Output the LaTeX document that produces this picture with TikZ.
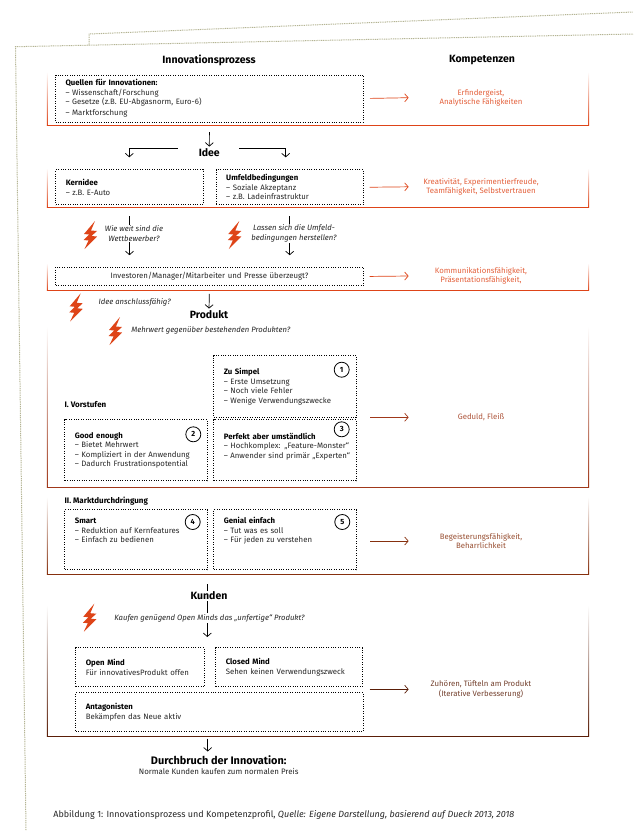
\documentclass[tikz,border=0pt]{standalone}
\usepackage{fontspec}
\setmainfont{Fira Sans}
\usetikzlibrary{arrows.meta}

\definecolor{pone}{HTML}{DE4418}
\definecolor{ptwo}{HTML}{A0381A}
\definecolor{pthree}{HTML}{86300E}
\definecolor{pfour}{HTML}{5A1E08}
\definecolor{outlinegray}{HTML}{B4B494}

\tikzset{
	dotbox/.style 2 args={
		draw = black,
		line width = 1pt,
		dash pattern = on 1pt off 1.4pt,
		anchor = north west,
		align = left,
		inner xsep = 10pt,
		inner ysep = 0pt,
		minimum width = #1,
		minimum height = #2,
		text width = #1-20pt,
		text = black!85,
		font = \fontsize{7.8}{9.5}\selectfont},
	head/.style = {font = \fontsize{10.5}{11}\selectfont\bfseries, fill = white, inner sep = 1pt},
	frage/.style = {font = \fontsize{7.7}{9.5}\selectfont\itshape, text = black!85, align = center, fill = white, inner sep = 1pt},
	vlabel/.style = {font = \fontsize{8}{9.5}\selectfont\bfseries, anchor = west, inner sep = 0pt},
	compnode/.style = {font = \fontsize{7.8}{9.5}\selectfont, align = center, minimum width = 144pt, inner sep = 0pt},
	num/.style = {circle, draw = black, line width = 0.8pt, minimum size = 15pt, inner sep = 0pt, font = \fontsize{7.5}{9}\selectfont\bfseries},
	bolt/.pic = {
		\fill[pone] (5,-14) -- (-6,-1) -- (-1,-0.5) -- (-6.5,5) -- (-1.5,5.5) -- (-5.5,14)
			-- (7,1.5) -- (1.5,1) -- (7,-4) -- (1,-4.5) -- cycle;
	}
}
\newcommand{\ti}[1]{\textcolor{black}{\bfseries #1}}

\begin{document}
\begin{tikzpicture}[
		x = 1pt,
		y = -1pt,
		> = {Straight Barb[length=3.5pt,width=8pt]},
		line width = 0.7pt]
	\useasboundingbox (0,0) rectangle (633,831);

	% outer outline
	\draw[outlinegray, line width = 1pt, dash pattern = on 1pt off 0.8pt]
		(26,830) -- (15.5,46.7) -- (633,34) (89,45.4) -- (89,34) -- (633,12);

	% panels
	\foreach \t/\b/\c in {71.7/125.3/pone, 168/207.3/pone, 263/290.3/pone, 326/487/ptwo, 496.7/574.3/pthree, 605/736.3/pfour} {
		\shade[top color = white, bottom color = \c] (46.9,\t) rectangle (47.8,\b);
		\shade[top color = white, bottom color = \c] (588.3,\t) rectangle (589.2,\b);
		\draw[\c, line width = 0.9pt] (46.9,\b) -- (589.2,\b);
	}

	\node[head] (innoprozess) at (209,60) {Innovationsprozess};
	\node[head] (kompetenzen) at (482,60) {Kompetenzen};

	\node[dotbox={308pt}{47pt}] (quellen) at (55,74.5) {\ti{Quellen für Innovationen:}\\– Wissenschaft/Forschung\\– Gesetze (z.B. EU-Abgasnorm, Euro-6)\\[1.5pt]– Marktforschung};
	\node[head] (idee) at (209.3,153) {Idee};
	\node[dotbox={147.4pt}{35pt}] (kernidee) at (55.3,169.3) {\ti{Kernidee}\\– z.B. E-Auto};
	\node[dotbox={147pt}{35pt}] (umfeld) at (215.7,169.3) {\ti{Umfeldbedingungen}\\– Soziale Akzeptanz\\– z.B. Ladeinfrastruktur};
	\node[dotbox={307.4pt}{18.6pt}, align = center] (investoren) at (55.3,266.7) {Investoren/Manager/Mitarbeiter und Presse überzeugt?};

	\coordinate (ideeL) at (177.7,148.3);
	\coordinate (ideeR) at (239,148.3);
	\coordinate (kernTop) at (129.3,157.3);
	\coordinate (umfTop) at (285.7,157.3);

	\path[->] (quellen.south) edge [shorten < = 9.5pt, shorten > = 1pt] (idee.north);
	\draw[->] (ideeL) -| (kernTop);
	\draw[->] (ideeR) -| (umfTop);
	\draw[->, shorten < = 11pt, shorten > = 11.5pt] (kernidee.south) -- (kernidee.south |- investoren.north);
	\draw[->, shorten < = 11pt, shorten > = 11.5pt] (umfeld.south) -- (umfeld.south |- investoren.north);

	\node[frage] (wettbewerb) at (134,233.5) {Wie weit sind die\\Wettbewerber?};
	\node[frage] (herstellen) at (294,233.5) {Lassen sich die Umfeld-\\bedingungen herstellen?};
	\pic at (90,235) {bolt};
	\pic at (234.3,235) {bolt};

	\node[head] (produkt) at (209,315) {Produkt};
	\path[->] (investoren.south) edge [shorten < = 7.5pt, shorten > = 1pt] (produkt.north);
	\node[frage, anchor = west] (anschluss) at (97.3,302.3) {Idee anschlussfähig?};
	\pic at (75.7,307.3) {bolt};
	\node[frage, anchor = west] (mehrwert) at (130,330) {Mehrwert gegenüber bestehenden Produkten?};
	\pic at (115,331) {bolt};

	\node[vlabel] (vorstufen) at (64.3,404.3) {I. Vorstufen};
	\node[dotbox={142.4pt}{61.4pt}] (simpel) at (213.3,355.3) {\ti{Zu Simpel}\\– Erste Umsetzung\\– Noch viele Fehler\\– Wenige Verwendungszwecke};
	\node[dotbox={142.4pt}{61pt}] (good) at (64.3,419.3) {\ti{Good enough}\\– Bietet Mehrwert\\– Kompliziert in der Anwendung\\– Dadurch Frustrationspotential};
	\node[dotbox={142.4pt}{61pt}] (perfekt) at (213.3,419.3) {\ti{Perfekt aber umständlich}\\\mbox{– Hochkomplex: „Feature-Monster“}\\\mbox{– Anwender sind primär „Experten“}\\\mbox{}};
	\node[num] (n1) at (341.7,369.7) {1};
	\node[num] (n2) at (193.3,434.3) {2};
	\node[num, fill = white] (n3) at (341.7,429.3) {3};

	\node[vlabel] (markt) at (64.3,501.3) {II. Marktdurchdringung};
	\node[dotbox={142.4pt}{60pt}] (smart) at (64.3,509.3) {\ti{Smart}\\– Reduktion auf Kernfeatures\\– Einfach zu bedienen\\\mbox{}\\\mbox{}};
	\node[dotbox={142.4pt}{60pt}] (genial) at (213.3,509.3) {\ti{Genial einfach}\\– Tut was es soll\\– Für jeden zu verstehen\\\mbox{}\\\mbox{}};
	\node[num] (n4) at (192.7,522) {4};
	\node[num] (n5) at (342.3,522) {5};

	\coordinate (kundenTop) at (207.3,584);
	\coordinate (kundenEnd) at (207.3,637);
	\draw[->] (kundenTop) -- (kundenEnd);
	\node[head, fill = white] (kunden) at (209,596) {Kunden};
	\node[frage] (unfertig) at (209.5,618) {Kaufen genügend Open Minds das „unfertige“ Produkt?};
	\pic at (89.3,617.7) {bolt};

	\node[dotbox={128.4pt}{39pt}] (open) at (75.3,647.3) {\ti{Open Mind}\\Für innovativesProdukt offen};
	\node[dotbox={146.4pt}{39pt}] (closed) at (215.3,647.3) {\ti{Closed Mind}\\Sehen keinen Verwendungszweck};
	\node[dotbox={287.2pt}{39pt}] (antagonisten) at (75.3,692.3) {\ti{Antagonisten}\\Bekämpfen das Neue aktiv};

	\node[head, font = \fontsize{10.9}{11}\selectfont\bfseries] (durchbruch) at (218.7,760) {Durchbruch der Innovation:};
	\node[font = \fontsize{7.9}{9}\selectfont, text = black!85, inner sep = 0pt] (normal) at (218.7,771.5) {Normale Kunden kaufen zum normalen Preis};
	\coordinate (durchTop) at (207.7,738.5);
	\coordinate (durchEnd) at (207.7,751.5);
	\draw[->] (durchTop) -- (durchEnd);

	% kompetenzen
	\node[compnode, text = pone!85] (erfinder) at (481,97.7) {Erfindergeist,\\Analytische Fähigkeiten};
	\node[compnode, text = pone!85] (kreativ) at (481,186.8) {Kreativität, Experimentierfreude,\\Teamfähigkeit, Selbstvertrauen};
	\node[compnode, text = pone!85] (kommunik) at (481,276) {Kommunikationsfähigkeit,\\Präsentationsfähigkeit,};
	\node[compnode, text = ptwo!85] (geduld) at (481,417.3) {Geduld, Fleiß};
	\node[compnode, text = pthree!85] (begeist) at (481,541) {Begeisterungsfähigkeit,\\Beharrlichkeit};
	\node[compnode, text = pfour!85] (zuhoeren) at (481,689.3) {Zuhören, Tüfteln am Produkt\\(Iterative Verbesserung)};

	\path[->, pone] (quellen.east) edge [shorten < = 6pt] (erfinder.west);
	\path[->, pone] (umfeld.east) edge [shorten < = 6pt] (kreativ.west);
	\path[->, pone] (investoren.east) edge [shorten < = 6pt] (kommunik.west);
	\path[->, ptwo] (simpel.south east |- geduld.west) edge [shorten < = 13.5pt] (geduld.west);
	\path[->, pthree] (genial.east |- begeist.west) edge [shorten < = 13.5pt] (begeist.west);
	\path[->, pfour] (closed.east |- zuhoeren.west) edge [shorten < = 7pt] (zuhoeren.west);

	\node[anchor = west, font = \fontsize{9}{10}\selectfont, text = black!85, inner sep = 0pt] (caption) at (53,815) {Abbildung 1: Innovationsprozess und Kompetenzprofil, \textit{Quelle: Eigene Darstellung, basierend auf Dueck 2013, 2018}};
\end{tikzpicture}
\end{document}
